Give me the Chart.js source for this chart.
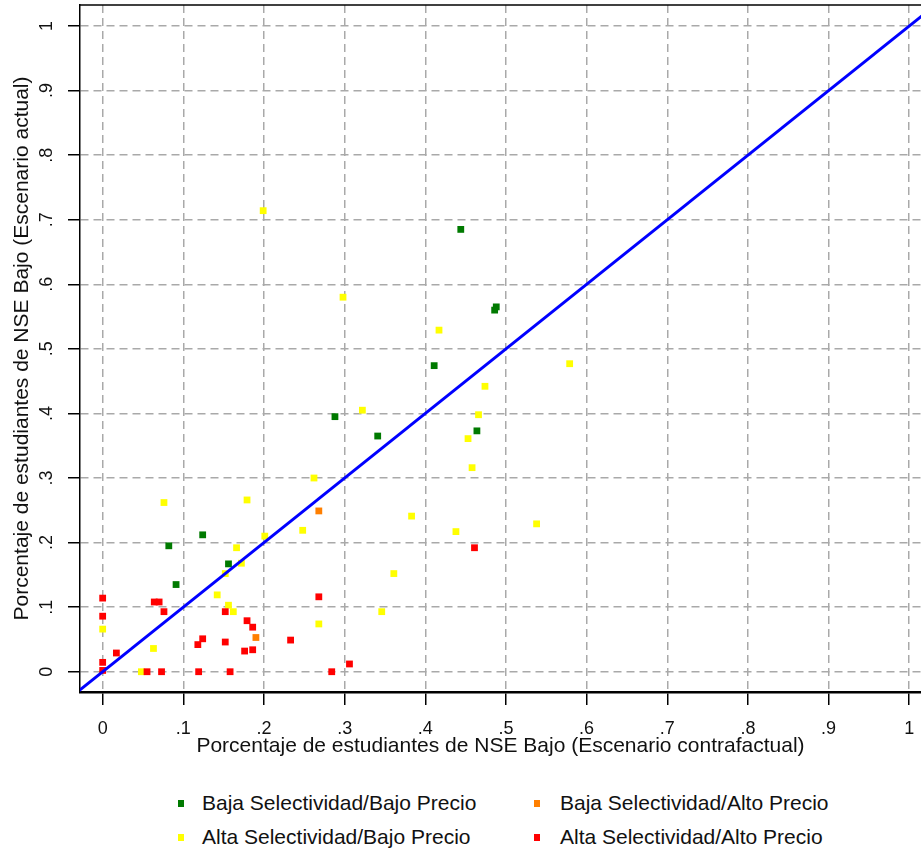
<!DOCTYPE html>
<html>
<head>
<meta charset="utf-8">
<script src="https://cdn.jsdelivr.net/npm/chart.js@4.4.1/dist/chart.umd.min.js"></script>
<style>
  html, body { margin: 0; padding: 0; background: #fff; overflow: hidden; }
  #wrap { position: relative; width: 921px; height: 855px; font-family: "Liberation Sans", Arial, sans-serif; }
  #chart { position: absolute; left: 0; top: 0; }
  .item { position: absolute; font-size: 21px; line-height: 24px; color: #111; white-space: nowrap; }
  .mk { position: absolute; width: 6px; height: 7px; }
</style>
</head>
<body>
<div id="wrap">
  <canvas id="chart" width="921" height="770"></canvas>
  <div id="legend"></div>
</div>
<script>
// datos
const xTicks = [0, 0.1, 0.2, 0.3, 0.4, 0.5, 0.6, 0.7, 0.8, 0.9, 1];
const yTicks = [0, 0.1, 0.2, 0.3, 0.4, 0.5, 0.6, 0.7, 0.8, 0.9, 1];

const seriesNames = [
  "Baja Selectividad/Bajo Precio",
  "Baja Selectividad/Alto Precio",
  "Alta Selectividad/Bajo Precio",
  "Alta Selectividad/Alto Precio",
];
const seriesColors = ["#007a00", "#ff7f00", "#ffff00", "#ff0000"];

const greenX = [0.082, 0.124, 0.091, 0.156, 0.444, 0.488, 0.486, 0.411, 0.288, 0.341, 0.464];
const greenY = [0.195, 0.212, 0.135, 0.167, 0.685, 0.565, 0.560, 0.474, 0.395, 0.365, 0.373];

const orangeX = [0.268, 0.190];
const orangeY = [0.249, 0.053];

const yellowX = [0.076, 0.179, 0.262, 0.201, 0.166, 0.172, 0.152, 0.142, 0.156, 0.162,
  0.248, 0.268, 0.000, 0.063, 0.048, 0.346, 0.361, 0.383, 0.438, 0.538,
  0.298, 0.417, 0.579, 0.474, 0.322, 0.466, 0.453, 0.458, 0.199];
const yellowY = [0.262, 0.266, 0.300, 0.210, 0.192, 0.168, 0.152, 0.119, 0.103, 0.093,
  0.219, 0.074, 0.066, 0.036, 0.000, 0.093, 0.152, 0.241, 0.217, 0.229,
  0.580, 0.529, 0.477, 0.442, 0.405, 0.398, 0.361, 0.316, 0.714];

const redX = [0.000, 0.000, 0.000, 0.000, 0.017, 0.064, 0.070, 0.076, 0.055, 0.073,
  0.118, 0.124, 0.119, 0.152, 0.152, 0.158, 0.179, 0.186, 0.176, 0.186,
  0.268, 0.233, 0.284, 0.306, 0.461];
const redY = [0.114, 0.086, 0.0145, 0.002, 0.029, 0.108, 0.108, 0.093, 0.000, 0.000,
  0.042, 0.051, 0.000, 0.093, 0.046, 0.000, 0.079, 0.069, 0.032, 0.034,
  0.116, 0.049, 0.000, 0.012, 0.192];

// recta de 45 grados
const diagonal = [-0.05, 1.05];

const xMin = -0.0281, xMax = 1.0146;
const yMin = -0.0314, yMax = 1.0325;

const FONT = '"Liberation Sans", Arial, sans-serif';

function fmt(v) {
  if (v === 0) return "0";
  if (v === 1) return "1";
  return "." + Math.round(v * 10);
}

function pts(xs, ys) {
  return xs.map((x, i) => ({ x: x, y: ys[i] }));
}

// borde superior y etiquetas del eje y rotadas
const framePlugin = {
  id: "frame",
  afterDraw(chart) {
    const ctx = chart.ctx;
    const a = chart.chartArea;
    ctx.save();
    ctx.strokeStyle = "#000";
    ctx.lineWidth = 1.5;
    ctx.beginPath();
    ctx.moveTo(a.left, a.top);
    ctx.lineTo(a.right + 2, a.top);
    ctx.stroke();

    const ys = chart.scales.y;
    ctx.fillStyle = "#111";
    ctx.font = "18px " + FONT;
    ctx.textAlign = "center";
    ctx.textBaseline = "middle";
    yTicks.forEach((v) => {
      ctx.save();
      ctx.translate(47, ys.getPixelForValue(v));
      ctx.rotate(-Math.PI / 2);
      ctx.fillText(fmt(v), 0, 0);
      ctx.restore();
    });
    ctx.restore();
  },
};

const pointOpts = { pointStyle: "rect", pointRadius: 4.8, pointHoverRadius: 4.8, borderWidth: 0, showLine: false };

new Chart(document.getElementById("chart"), {
  type: "scatter",
  data: {
    datasets: [
      {
        type: "line",
        data: diagonal.map((v) => ({ x: v, y: v })),
        borderColor: "#0000ff",
        borderWidth: 3,
        pointRadius: 0,
        order: 0,
      },
      Object.assign({ data: pts(redX, redY), backgroundColor: seriesColors[3], label: seriesNames[3], order: 1 }, pointOpts),
      Object.assign({ data: pts(yellowX, yellowY), backgroundColor: seriesColors[2], label: seriesNames[2], order: 2 }, pointOpts),
      Object.assign({ data: pts(orangeX, orangeY), backgroundColor: seriesColors[1], label: seriesNames[1], order: 3 }, pointOpts),
      Object.assign({ data: pts(greenX, greenY), backgroundColor: seriesColors[0], label: seriesNames[0], order: 4 }, pointOpts),
    ],
  },
  options: {
    responsive: false,
    animation: false,
    layout: { autoPadding: false, padding: { top: 5, left: 0, right: 0, bottom: 0 } },
    plugins: { legend: { display: false }, tooltip: { enabled: false } },
    scales: {
      x: {
        type: "linear",
        min: xMin,
        max: xMax,
        afterBuildTicks: (s) => { s.ticks = xTicks.map((v) => ({ value: v })); },
        afterFit: (s) => {
          s.height = 78;
          s.paddingLeft = 0;
          s.paddingRight = 0;
        },
        ticks: {
          callback: (v) => fmt(v),
          font: { size: 18, family: FONT },
          color: "#111",
          padding: 13,
          maxRotation: 0,
          autoSkip: false,
        },
        grid: {
          color: "#a9a9a9",
          lineWidth: 1.5,
          tickLength: 13,
          tickColor: "#000",
          tickWidth: 1.5,
          tickBorderDash: [],
        },
        border: { display: true, color: "#000", width: 2.5, dash: [8, 5] },
        title: {
          display: true,
          text: "Porcentaje de estudiantes de NSE Bajo (Escenario contrafactual)",
          font: { size: 21, family: FONT },
          color: "#111",
          padding: { top: 0, bottom: 11 },
        },
      },
      y: {
        type: "linear",
        min: yMin,
        max: yMax,
        afterBuildTicks: (s) => { s.ticks = yTicks.map((v) => ({ value: v })); },
        afterFit: (s) => { s.width = 80; },
        ticks: { display: false },
        grid: {
          color: "#a9a9a9",
          lineWidth: 1.5,
          tickLength: 12,
          tickColor: "#000",
          tickWidth: 1.5,
          tickBorderDash: [],
        },
        border: { display: true, color: "#000", width: 1.5, dash: [8, 5] },
        title: {
          display: true,
          text: "Porcentaje de estudiantes de NSE Bajo (Escenario actual)",
          font: { size: 21, family: FONT },
          color: "#111",
          padding: { top: 10, bottom: 0 },
        },
      },
    },
  },
  plugins: [framePlugin],
});

// leyenda en 2 columnas
const legendPos = [
  { mx: 178, tx: 202, y: 791 },
  { mx: 534, tx: 560, y: 791 },
  { mx: 178, tx: 202, y: 825 },
  { mx: 534, tx: 560, y: 825 },
];
const legendOrder = [0, 1, 2, 3];
const legendEl = document.getElementById("legend");
legendOrder.forEach((s, i) => {
  const p = legendPos[i];
  const mk = document.createElement("div");
  mk.className = "mk";
  mk.style.left = p.mx + "px";
  mk.style.top = (p.y + 9) + "px";
  mk.style.background = seriesColors[s];
  legendEl.appendChild(mk);
  const t = document.createElement("div");
  t.className = "item";
  t.style.left = p.tx + "px";
  t.style.top = p.y + "px";
  t.textContent = seriesNames[s];
  legendEl.appendChild(t);
});
</script>
</body>
</html>
